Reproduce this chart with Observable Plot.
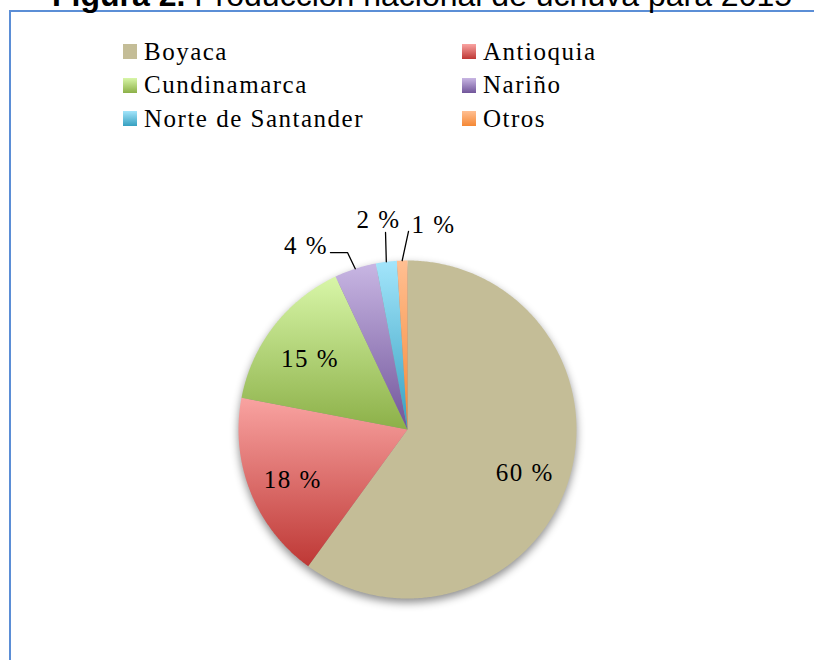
<!DOCTYPE html>
<html>
<head>
<meta charset="utf-8">
<script src="https://cdn.jsdelivr.net/npm/d3@7"></script>
<script src="https://cdn.jsdelivr.net/npm/@observablehq/plot@0.6"></script>
<style>
  html, body { margin: 0; padding: 0; background: #fff; }
  body { width: 814px; height: 660px; overflow: hidden; position: relative; }
  #title { position: absolute; left: 52px; top: -21px; line-height: 32px; font-family: "Liberation Sans", Arial, sans-serif; font-size: 32px; white-space: nowrap; color: #000; }
  #frame { position: absolute; left: 9px; top: 10px; width: 900px; height: 800px; border-left: 2px solid #5b8ed6; border-top: 2px solid #5b8ed6; }
  #legend { position: absolute; left: 123px; top: 35px; display: grid; grid-template-columns: 339px auto; }
  .item { display: flex; align-items: center; height: 33.5px; font-family: "Liberation Serif", "DejaVu Serif", serif; font-size: 25px; letter-spacing: 1.5px; color: #000; white-space: nowrap; }
  .sw { width: 14px; height: 15px; margin-right: 7px; flex: none; }
  #chart { position: absolute; left: 0; top: 0; }
</style>
</head>
<body>
<svg width="0" height="0" style="position:absolute" aria-hidden="true"><defs id="gradDefs"></defs></svg>
<div id="frame"></div>
<div id="title"><b>Figura 2.</b> Producción nacional de uchuva para 2015</div>
<div id="legend"></div>
<div id="chart"></div>
<script>
// ---- data ----
const departments = ["Boyaca", "Antioquia", "Cundinamarca", "Nariño", "Norte de Santander", "Otros"];
const shares = [60, 18, 15, 4, 2, 1];
const percentLabels = ["60 %", "18 %", "15 %", "4 %", "2 %", "1 %"];
// legend order (two columns, row-major)
const legendOrder = ["Boyaca", "Antioquia", "Cundinamarca", "Nariño", "Norte de Santander", "Otros"];

// ---- styles (top, bottom gradient colours) ----
const gradColors = [
  ["#c4bd97", "#c4bd97"],
  ["#f9a3a1", "#be3835"],
  ["#d8f6a8", "#8cb048"],
  ["#c8b6e3", "#71559a"],
  ["#a3e5fb", "#36a0c0"],
  ["#ffbf92", "#f58834"]
];
const gradIds = departments.map((d, i) => "grad" + i);

const defs = document.getElementById("gradDefs");
gradColors.forEach(([c0, c1], i) => {
  const g = document.createElementNS("http://www.w3.org/2000/svg", "linearGradient");
  g.setAttribute("id", gradIds[i]);
  g.setAttribute("x1", "0"); g.setAttribute("y1", "0");
  g.setAttribute("x2", "0"); g.setAttribute("y2", "1");
  [[0, c0], [1, c1]].forEach(([o, c]) => {
    const s = document.createElementNS("http://www.w3.org/2000/svg", "stop");
    s.setAttribute("offset", o);
    s.setAttribute("stop-color", c);
    g.appendChild(s);
  });
  defs.appendChild(g);
});

// ---- legend ----
const legend = document.getElementById("legend");
legendOrder.forEach(name => {
  const i = departments.indexOf(name);
  const item = document.createElement("div");
  item.className = "item";
  const sw = document.createElement("span");
  sw.className = "sw";
  sw.style.background = `linear-gradient(${gradColors[i][0]}, ${gradColors[i][1]})`;
  item.appendChild(sw);
  item.appendChild(document.createTextNode(name));
  legend.appendChild(item);
});

// ---- pie geometry (unit circle, clockwise from 12 o'clock) ----
const pie = d3.pie().sort(null).value(d => d)(shares);
const pt = (a, r = 1) => [r * Math.sin(a), r * Math.cos(a)];
const slices = pie.map((p, i) => {
  const n = Math.max(2, Math.ceil((p.endAngle - p.startAngle) / (Math.PI / 360)));
  const ring = [[0, 0]];
  for (let k = 0; k <= n; k++) ring.push(pt(p.startAngle + (p.endAngle - p.startAngle) * k / n));
  ring.push([0, 0]);
  return { type: "Feature", properties: { name: departments[i] }, geometry: { type: "Polygon", coordinates: [ring.reverse()] } };
});
const circle = { type: "Polygon", coordinates: [d3.range(0, 361, 2).map(a => pt(a * Math.PI / 180))] };

const mid = p => (p.startAngle + p.endAngle) / 2;
// inside labels for large slices
const inside = pie.map((p, i) => ({ i, p })).filter(d => shares[d.i] >= 10).map(({ i, p }) => {
  const [x, y] = pt(mid(p), 0.73);
  return { x, y: y - 0.03, label: percentLabels[i] };
});
// outside labels for small slices, with leader lines (Excel "best fit" placement)
const outsideLayout = { // in radius units: leader elbow / end, label anchor
  3: { path: [[-0.355, 1.047], [-0.456, 1.047]], label: [-0.47, 1.085], anchor: "end" },
  4: { path: [[-0.13, 1.166]], label: [-0.172, 1.24], anchor: "middle" },
  5: { path: [[0.006, 1.172]], label: [0.154, 1.21], anchor: "middle" }
};
const leaders = [];
const outside = [];
pie.forEach((p, i) => {
  const L = outsideLayout[i];
  if (!L) return;
  const pts = [pt(mid(p)), ...L.path];
  pts.forEach(([x, y]) => leaders.push({ x, y, k: i }));
  outside.push({ x: L.label[0], y: L.label[1], label: percentLabels[i], anchor: L.anchor });
});

const chart = Plot.plot({
  width: 814,
  height: 660,
  marginLeft: 238,
  marginRight: 238,
  marginTop: 260,
  marginBottom: 62,
  projection: { type: "reflect-y", domain: circle, clip: false },
  color: { type: "ordinal", domain: departments, range: gradIds.map(id => `url(#${id})`) },
  marks: [
    Plot.geo(slices, { fill: d => d.properties.name, clip: false }),
    Plot.line(leaders, { x: "x", y: "y", z: "k", stroke: "#000", strokeWidth: 1.3, clip: false }),
    Plot.text(inside, { x: "x", y: "y", text: "label", fontSize: 25, fill: "#000", clip: false }),
    Plot.text(outside.filter(d => d.anchor === "end"), { x: "x", y: "y", text: "label", fontSize: 25, textAnchor: "end", fill: "#000", clip: false }),
    Plot.text(outside.filter(d => d.anchor === "middle"), { x: "x", y: "y", text: "label", fontSize: 25, fill: "#000", clip: false })
  ],
  style: { fontFamily: "'Liberation Serif', 'DejaVu Serif', serif", letterSpacing: "1.5px", background: "transparent", overflow: "visible" }
});
document.getElementById("chart").appendChild(chart);
const geoG = chart.querySelector('g[aria-label="geo"]');
if (geoG) geoG.style.filter = "drop-shadow(0px 4px 4px rgba(0,0,0,0.45))";
</script>
</body>
</html>
